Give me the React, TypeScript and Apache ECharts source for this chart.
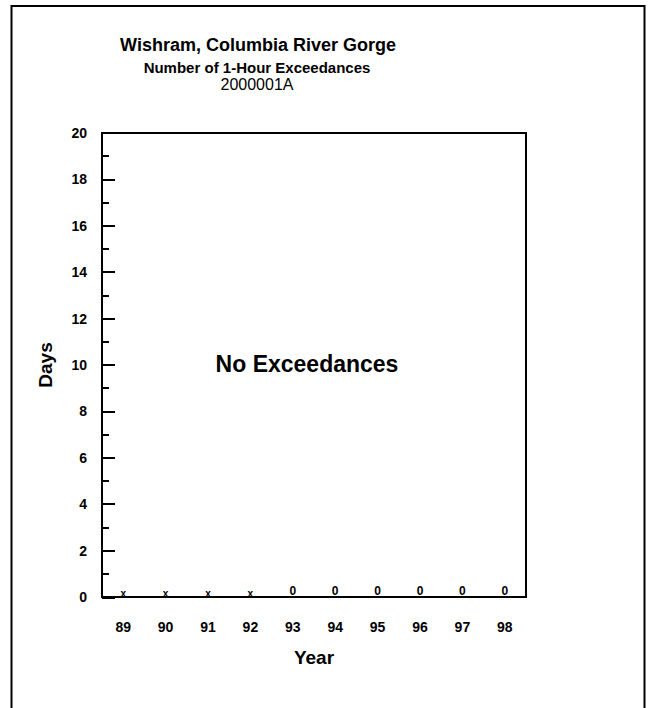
import React, { useEffect, useRef } from "react";
import * as echarts from "echarts";

const FONT = "'Liberation Sans', Arial, Helvetica, sans-serif";

// Reporting years (two-digit) and the count of 1-hour exceedance days.
// null = no monitoring data for that year (shown as "x").
const years: string[] = ["89", "90", "91", "92", "93", "94", "95", "96", "97", "98"];
const exceedanceDays: (number | null)[] = [null, null, null, null, 0, 0, 0, 0, 0, 0];

const yTicks = { min: 0, max: 20, interval: 2 };

const titleText = "Wishram, Columbia River Gorge";
const subtitleText = "Number of 1-Hour Exceedances";
const siteCode = "2000001A";
const noteText = "No Exceedances";

export default function App() {
  const ref = useRef<HTMLDivElement>(null);

  useEffect(() => {
    if (!ref.current) return;
    const chart = echarts.init(ref.current, undefined, { renderer: "svg" });

    const seriesData = exceedanceDays.map((v) => ({
      value: v ?? 0,
      label:
        v === null
          ? { formatter: "x", fontSize: 10, distance: -1 }
          : { formatter: String(v), fontSize: 12, distance: 0 },
    }));

    chart.setOption({
      animation: false,
      backgroundColor: "#ffffff",
      textStyle: { fontFamily: FONT, color: "#000" },
      grid: {
        left: 102,
        top: 133,
        right: 123,
        bottom: 111,
        show: true,
        borderColor: "#000",
        borderWidth: 2,
        backgroundColor: "transparent",
      },
      xAxis: {
        type: "category",
        data: years,
        boundaryGap: true,
        name: "Year",
        nameLocation: "middle",
        nameGap: 51,
        nameTextStyle: { fontFamily: FONT, fontWeight: "bold", fontSize: 19, color: "#000" },
        axisLine: { show: true, lineStyle: { color: "#000", width: 2 } },
        axisTick: { show: false },
        axisLabel: { fontFamily: FONT, fontWeight: "bold", fontSize: 14, color: "#000", margin: 23 },
        splitLine: { show: false },
      },
      yAxis: {
        type: "value",
        min: yTicks.min,
        max: yTicks.max,
        interval: yTicks.interval,
        name: "Days",
        nameLocation: "middle",
        nameGap: 47,
        nameRotate: 90,
        nameTextStyle: { fontFamily: FONT, fontWeight: "bold", fontSize: 19, color: "#000" },
        axisLine: { show: true, lineStyle: { color: "#000", width: 2 } },
        axisTick: { show: true, inside: true, length: 13, lineStyle: { color: "#000", width: 2 } },
        minorTick: { show: true, splitNumber: 2, length: 7, lineStyle: { color: "#000", width: 2 } },
        axisLabel: { fontFamily: FONT, fontWeight: "bold", fontSize: 14, color: "#000", margin: 15 },
        splitLine: { show: false },
      },
      series: [
        {
          type: "bar",
          data: seriesData,
          barWidth: 1,
          itemStyle: { color: "#000" },
          label: {
            show: true,
            position: "top",
            fontFamily: FONT,
            fontWeight: "bold",
            color: "#000",
          },
        },
      ],
      graphic: [
        {
          type: "rect",
          shape: { x: 11.5, y: 6, width: 633, height: 720 },
          style: { fill: "none", stroke: "#000", lineWidth: 2 },
          silent: true,
        },
        {
          type: "rect",
          shape: { x: 102, y: 596, width: 13, height: 3 },
          style: { fill: "#000" },
          silent: true,
        },
        {
          type: "text",
          x: 258,
          y: 45,
          style: {
            text: titleText,
            fontFamily: FONT,
            fontWeight: "bold",
            fontSize: 18,
            fill: "#000",
            textAlign: "center",
            textVerticalAlign: "middle",
          },
        },
        {
          type: "text",
          x: 257,
          y: 67,
          style: {
            text: subtitleText,
            fontFamily: FONT,
            fontWeight: "bold",
            fontSize: 15,
            fill: "#000",
            textAlign: "center",
            textVerticalAlign: "middle",
          },
        },
        {
          type: "text",
          x: 257,
          y: 84,
          style: {
            text: siteCode,
            fontFamily: FONT,
            fontSize: 16,
            fill: "#000",
            textAlign: "center",
            textVerticalAlign: "middle",
          },
        },
        {
          type: "text",
          x: 307,
          y: 364,
          style: {
            text: noteText,
            fontFamily: FONT,
            fontWeight: "bold",
            fontSize: 23,
            fill: "#000",
            textAlign: "center",
            textVerticalAlign: "middle",
          },
        },
      ],
    });

    return () => chart.dispose();
  }, []);

  return (
    <div
      ref={ref}
      style={{ position: "absolute", left: 0, top: 0, width: 649, height: 708 }}
    />
  );
}
